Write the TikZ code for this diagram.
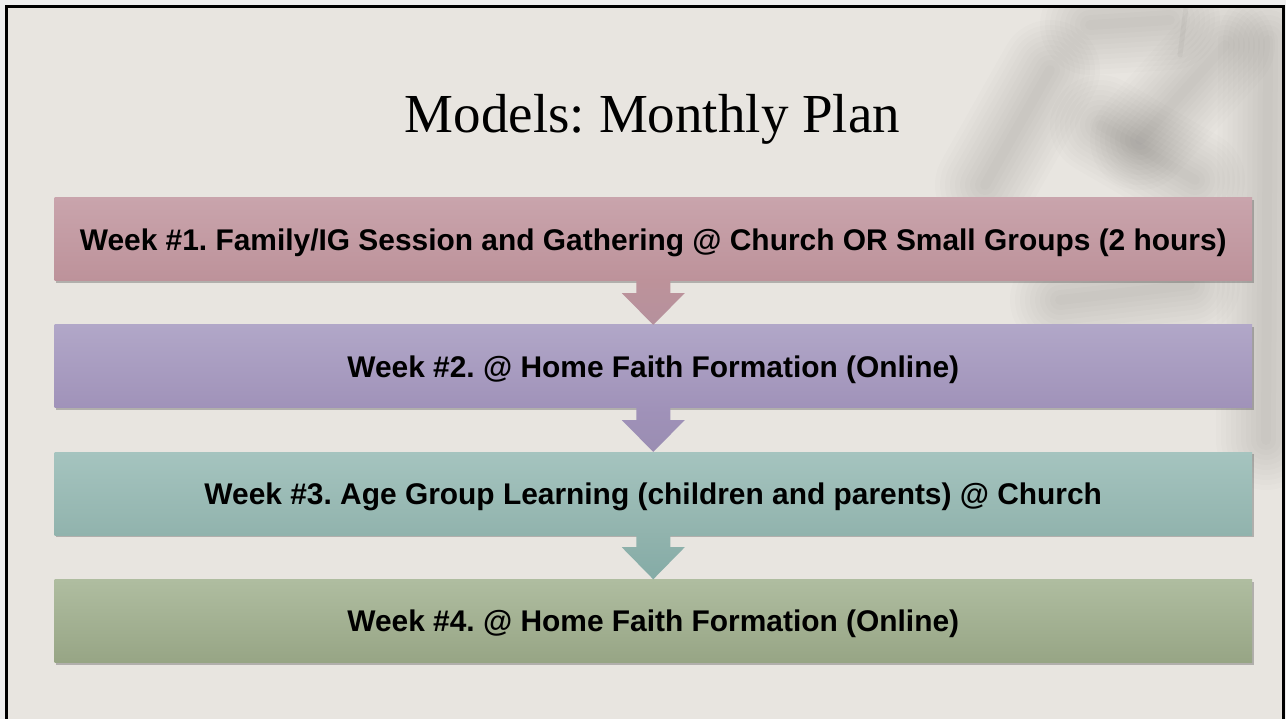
\documentclass[tikz,border=0pt]{standalone}
\usepackage{fontspec}
\setmainfont{Liberation Serif}
\newfontfamily\boxfont{Liberation Sans}
\usetikzlibrary{calc,shadows}
\frenchspacing
\definecolor{slidebg}{HTML}{E8E5E0}
\definecolor{outerbg}{HTML}{EFEFEF}
\definecolor{roseT}{HTML}{C9A4AC}
\definecolor{roseB}{HTML}{BD929A}
\definecolor{lilacT}{HTML}{B1A7C8}
\definecolor{lilacB}{HTML}{A092B9}
\definecolor{tealT}{HTML}{A5C4BF}
\definecolor{tealB}{HTML}{91B3AD}
\definecolor{sageT}{HTML}{AFBDA0}
\definecolor{sageB}{HTML}{97A585}
\definecolor{roseA}{HTML}{B5919D}
\definecolor{lilacA}{HTML}{9A8DB2}
\definecolor{tealA}{HTML}{84ABA6}
\tikzset{
  weekbox/.style={minimum width=1197.5pt,minimum height=83pt,inner sep=0pt,
    text height=21.5pt,text depth=0pt,
    font=\boxfont\bfseries\fontsize{29.9}{32}\selectfont,
    drop shadow={shadow xshift=1.5pt,shadow yshift=-2pt,opacity=.35,fill=black!70}},
  leafshade/.style={draw=black,opacity=.011,line cap=round,line join=round}
}
\begin{document}
\begin{tikzpicture}[x=1pt,y=-1pt]
			\useasboundingbox (0,0) rectangle (1286,719);
			\fill[outerbg] (0,0) rectangle (1286,719);
			\fill[slidebg] (7,7) rectangle (1283.5,719);
			% blurred plant shadow, top right
			\begin{scope}
			\clip (8.5,8.5) rectangle (1282,719);
			\foreach \w in {100,90,...,10}{
			\draw[leafshade,line width=\w] (985,185) -- (1050,70);
			\draw[leafshade,line width=\w] (1140,140) -- (1225,45);
			\draw[leafshade,line width=\w] (1090,25) -- (1170,20);
			\draw[leafshade,line width=\w] (1100,125) -- (1195,180);
			\draw[leafshade,line width=\w] (1268,40) -- (1266,440);
			\draw[leafshade,line width=\w] (1060,300) -- (1190,285);
			}
			\draw[black,opacity=.03,line width=5,line cap=round] (1186,8) -- (1180,55);
			\end{scope}
			\draw[line width=3pt] (6.5,725) -- (6.5,6.5) -- (1283.5,6.5) -- (1283.5,725);
			\node (title) [anchor=base,font=\fontsize{55}{60}\selectfont] at (652.5,133) {Models: Monthly Plan};
			\node (w1) [weekbox,top color=roseT,bottom color=roseB] at (653.25,239.5) {Week \#1. Family/IG Session and Gathering @ Church OR Small Groups (2 hours)};
			\node (w2) [weekbox,top color=lilacT,bottom color=lilacB] at (653.25,366.5) {Week \#2. @ Home Faith Formation (Online)};
			\node (w3) [weekbox,top color=tealT,bottom color=tealB] at (653.25,493.5) {Week \#3. Age Group Learning (children and parents) @ Church};
			\node (w4) [weekbox,top color=sageT,bottom color=sageB] at (653.25,621) {Week \#4. @ Home Faith Formation (Online)};
			\foreach \a/\b/\ct/\cb in {w1/w2/roseB/roseA,w2/w3/lilacB/lilacA,w3/w4/tealB/tealA}
			\path[top color=\ct,bottom color=\cb] ($(\a.south)+(-17,-1)$) -- ($(\a.south)+(-17,12)$) -- ($(\a.south)+(-31.5,12)$) -- (\b.north) -- ($(\a.south)+(31.5,12)$) -- ($(\a.south)+(17,12)$) -- ($(\a.south)+(17,-1)$) -- cycle;
\end{tikzpicture}
\end{document}
